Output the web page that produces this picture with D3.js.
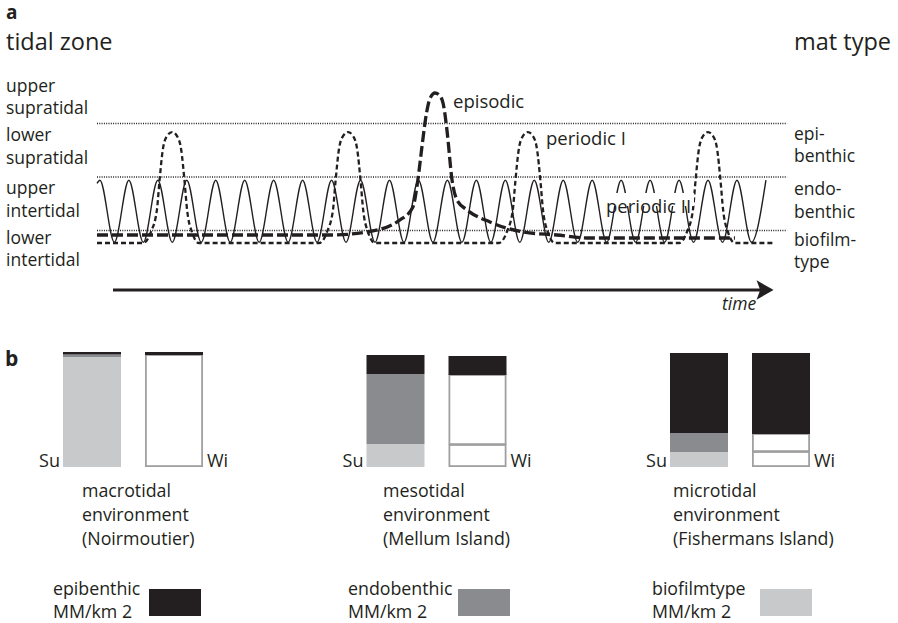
<!DOCTYPE html>
<html><head><meta charset="utf-8">
<script src="https://cdn.jsdelivr.net/npm/d3@7"></script>
<style>
html,body{margin:0;padding:0;background:#fff;}
svg{display:block;font-family:"Open Sans",sans-serif;}
svg text{fill:#231f20;}
</style></head><body>
<script>
// ================= DATA =================
// Panel a
const zoneLabels = [["upper","supratidal"],["lower","supratidal"],["upper","intertidal"],["lower","intertidal"]];
const matLabels = [["epi-","benthic"],["endo-","benthic"],["biofilm-","type"]];
const zoneBoundaries = [3, 2, 1];            // levels of the dotted boundaries
// periodic II (solid tidal curve): turning points (time in tidal cycles, level)
const tideHighTimes = [0.1,1.1,2.1,3.1,4.1,5.1,6.1,7.1,8.1,9.1,10.1,11.1,12.1,13.1,14.1,15.1,16.1,17.1,18.1,19.1,20.1,21.1,22.1,23.1];
const tideLowTimes  = [0.6,1.6,2.6,3.6,4.6,5.6,6.6,7.6,8.6,9.6,10.6,11.6,12.6,13.6,14.6,15.6,16.6,17.6,18.6,19.6,20.6,21.6,22.6];
const tideHigh = 1.94, tideLow = 0.78, tideStart = [0, 1.88];
// periodic I (dashed): bump centres and bump outline (time offset, level)
const periodicICenters = [2.59, 8.67, 14.88, 21.10];
const periodicIProfile = [[-1.0,0.766],[-0.73,0.97],[-0.52,1.39],[-0.43,1.94],[-0.32,2.50],[-0.18,2.76],[0,2.84],[0.18,2.76],[0.32,2.50],[0.43,1.94],[0.52,1.39],[0.69,0.97],[0.93,0.766]];
const periodicIBase = 0.766, periodicIStart = 0, periodicIEnd = 23.34;
// episodic (thick dashed)
const episodic = [[0,0.916],[8.05,0.916],[9.32,0.972],[10.46,1.196],[10.91,1.439],[11.08,1.944],[11.22,2.561],[11.38,3.20],[11.50,3.47],[11.67,3.57],[11.84,3.52],[11.98,3.30],[12.09,2.85],[12.26,1.944],[12.43,1.570],[12.78,1.383],[13.57,1.159],[14.71,0.972],[15.88,0.916],[17.02,0.860],[22.03,0.860]];

// Panel b
const environments = ["macrotidal","mesotidal","microtidal"];
const envLines = [["macrotidal","environment","(Noirmoutier)"],["mesotidal","environment","(Mellum Island)"],["microtidal","environment","(Fishermans Island)"]];
const seasons = ["Su","Wi"];
const matKeys = ["biofilmtype","endobenthic","epibenthic"];   // stacked bottom -> top
const epiSu  = [2.5, 19, 80];
const endoSu = [2.5, 70, 19];
const bioSu  = [110, 23, 15];
const epiWi  = [3, 19, 81];
const endoWi = [0, 70, 18];
const bioWi  = [112, 22, 15];
const legendKeys = ["epibenthic","endobenthic","biofilmtype"];
const legendUnit = "MM/km 2";

// ================= STYLE / LAYOUT =================
const colors = {epibenthic:"#231f20", endobenthic:"#8a8b8e", biofilmtype:"#c8c9cb"};
const W = 898, H = 623;
const svg = d3.select("body").append("svg").attr("width",W).attr("height",H);

// ---- panel a ----
const x = d3.scaleLinear().domain([0,24]).range([97, 792]);
const y = d3.scaleLinear().domain([0,4]).range([284, 70]);

svg.append("text").attr("x",6).attr("y",19).attr("font-size",19).attr("font-weight","bold").text("a");
svg.append("text").attr("x",6).attr("y",50).attr("font-size",23.5).text("tidal zone");
svg.append("text").attr("x",794).attr("y",50).attr("font-size",23.5).text("mat type");

const leftY = [[92,114],[141,164],[194,217],[244,266]];
zoneLabels.forEach((pair,i)=>pair.forEach((t,j)=>
  svg.append("text").attr("x",6).attr("y",leftY[i][j]).attr("font-size",17.5).text(t)));
const rightY = [[140,162],[195,218],[246,268]];
matLabels.forEach((pair,i)=>pair.forEach((t,j)=>
  svg.append("text").attr("x",794).attr("y",rightY[i][j]).attr("font-size",17.5).text(t)));

// dotted boundaries
svg.selectAll(".bound").data(zoneBoundaries).join("line")
  .attr("x1",x(0)).attr("x2",x(23.83))
  .attr("y1",d=>y(d)).attr("y2",d=>y(d))
  .attr("stroke","#231f20").attr("stroke-width",1.3).attr("stroke-dasharray","1,1.3");

const line = d3.line().x(d=>x(d[0])).y(d=>y(d[1])).curve(d3.curveMonotoneX);

// periodic I
const pI = [[periodicIStart, periodicIBase]];
periodicICenters.forEach(c=>periodicIProfile.forEach(p=>pI.push([c+p[0], p[1]])));
pI.push([periodicIEnd, periodicIBase]);
svg.append("path").attr("d",line(pI)).attr("fill","none")
  .attr("stroke","#231f20").attr("stroke-width",2.3).attr("stroke-dasharray","5,3");

// episodic
svg.append("path").attr("d",line(episodic)).attr("fill","none")
  .attr("stroke","#231f20").attr("stroke-width",3.3).attr("stroke-dasharray","11,4");

// periodic II (tide)
const tide = [tideStart];
tideHighTimes.forEach((t,i)=>{ tide.push([t,tideHigh]); if(i<tideLowTimes.length) tide.push([tideLowTimes[i],tideLow]); });
svg.append("path").attr("d",line(tide)).attr("fill","none")
  .attr("stroke","#231f20").attr("stroke-width",1.4);

// curve labels
svg.append("text").attr("x",453).attr("y",108).attr("font-size",18.5).text("episodic");
svg.append("text").attr("x",546).attr("y",145).attr("font-size",18.5).text("periodic I");
svg.append("rect").attr("x",605).attr("y",193).attr("width",89).attr("height",13).attr("fill","#fff");
svg.append("text").attr("x",606).attr("y",213).attr("font-size",18.5).text("periodic II");

// time arrow
svg.append("line").attr("x1",113).attr("x2",764).attr("y1",290).attr("y2",290)
  .attr("stroke","#231f20").attr("stroke-width",3);
svg.append("path").attr("d","M772,290 L758,282 L761,290 L758,298 Z").attr("fill","#231f20")
  .attr("stroke","#231f20").attr("stroke-width",1.5).attr("stroke-linejoin","miter");
svg.append("text").attr("x",722).attr("y",310).attr("font-size",17.5).attr("font-style","italic").text("time");

// ---- panel b ----
svg.append("text").attr("x",5).attr("y",366).attr("font-size",21).attr("font-weight","bold").text("b");

const envX = d3.scaleBand().domain(environments).range([63, 63+3*303.5]).paddingInner(0);
const seasonX = d3.scaleBand().domain(seasons).range([0,140]).paddingInner(24/82).paddingOuter(0);
const yB = d3.scaleLinear().domain([0,115]).range([467,352]);

const rows = [];
environments.forEach((e,i)=>{
  rows.push({env:e, season:"Su", biofilmtype:bioSu[i], endobenthic:endoSu[i], epibenthic:epiSu[i]});
  rows.push({env:e, season:"Wi", biofilmtype:bioWi[i], endobenthic:endoWi[i], epibenthic:epiWi[i]});
});
const stacked = d3.stack().keys(matKeys)(rows);
stacked.forEach(layer=>{
  layer.forEach(seg=>{
    const r = seg.data; if(seg[1]-seg[0] <= 0) return;
    const bx = envX(r.env)+seasonX(r.season), bw = seasonX.bandwidth();
    const y0 = yB(seg[0]), y1 = yB(seg[1]);
    if(r.season==="Wi" && layer.key!=="epibenthic"){
      svg.append("rect").attr("x",bx+0.9).attr("y",y1).attr("width",bw-1.8).attr("height",y0-y1-0.9)
        .attr("fill","#fff").attr("stroke","#a0a0a0").attr("stroke-width",1.8);
    } else {
      svg.append("rect").attr("x",bx).attr("y",y1).attr("width",bw).attr("height",y0-y1)
        .attr("fill",colors[layer.key]);
    }
  });
});
environments.forEach(e=>{
  svg.append("text").attr("x",envX(e)+seasonX("Su")-3).attr("y",467).attr("font-size",18)
    .attr("text-anchor","end").text("Su");
  svg.append("text").attr("x",envX(e)+seasonX("Wi")+seasonX.bandwidth()+4).attr("y",467).attr("font-size",18).text("Wi");
});
const envLabelX = [82,383,673];
envLines.forEach((lines,i)=>lines.forEach((t,j)=>
  svg.append("text").attr("x",envLabelX[i]).attr("y",497+j*24).attr("font-size",17.8).text(t)));

// legend
const legTextX = [53,348,652], legBoxX = [149,458,760];
legendKeys.forEach((k,i)=>{
  svg.append("text").attr("x",legTextX[i]).attr("y",595).attr("font-size",17.8).text(k);
  svg.append("text").attr("x",legTextX[i]).attr("y",618).attr("font-size",17.8).text(legendUnit);
  svg.append("rect").attr("x",legBoxX[i]).attr("y",589).attr("width",52).attr("height",27).attr("fill",colors[k]);
});
</script>
</body></html>
